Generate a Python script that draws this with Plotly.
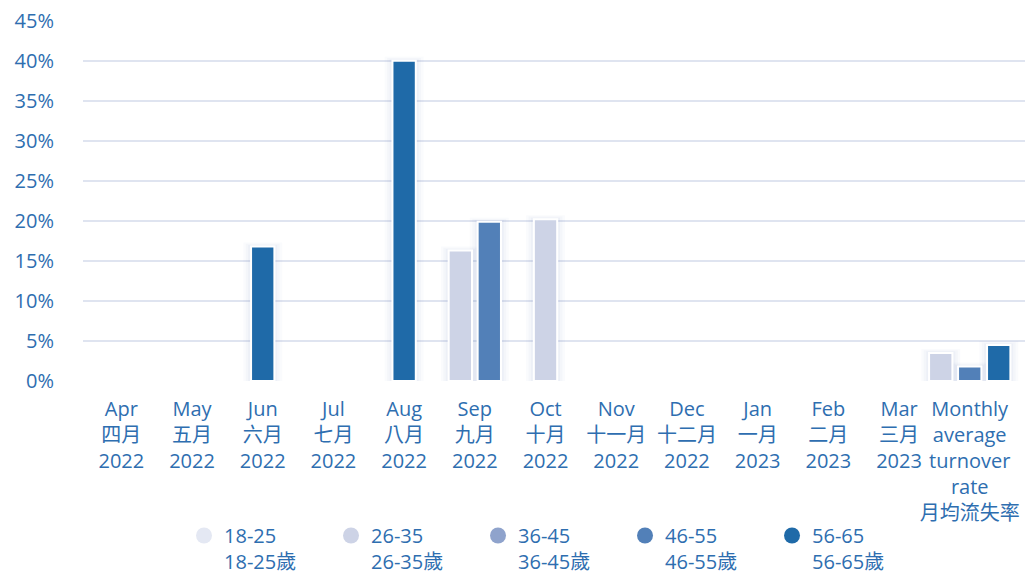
import plotly.graph_objects as go

categories = ["Apr<br>四月<br>2022", "May<br>五月<br>2022", "Jun<br>六月<br>2022", "Jul<br>七月<br>2022",
              "Aug<br>八月<br>2022", "Sep<br>九月<br>2022", "Oct<br>十月<br>2022", "Nov<br>十一月<br>2022",
              "Dec<br>十二月<br>2022", "Jan<br>一月<br>2023", "Feb<br>二月<br>2023", "Mar<br>三月<br>2023",
              "Monthly<br>average<br>turnover<br>rate<br>月均流失率"]

series_names = ["18-25<br>18-25歲", "26-35<br>26-35歲", "36-45<br>36-45歲", "46-55<br>46-55歲", "56-65<br>56-65歲"]

age_18_25 = [0, 0, 0, 0, 0, 0, 0, 0, 0, 0, 0, 0, 0]
age_26_35 = [0, 0, 0, 0, 0, 16.3, 20.2, 0, 0, 0, 0, 0, 3.5]
age_36_45 = [0, 0, 0, 0, 0, 0, 0, 0, 0, 0, 0, 0, 0]
age_46_55 = [0, 0, 0, 0, 0, 19.9, 0, 0, 0, 0, 0, 0, 1.8]
age_56_65 = [0, 0, 16.8, 0, 40.0, 0, 0, 0, 0, 0, 0, 0, 4.5]

y_ticks = [0, 5, 10, 15, 20, 25, 30, 35, 40, 45]
y_tick_labels = ["0%", "5%", "10%", "15%", "20%", "25%", "30%", "35%", "40%", "45%"]

colors = ["#e4e8f3", "#cdd3e6", "#8fa3cc", "#5280b8", "#1f6aa8"]
text_color = "#2e6eb0"
font_family = "Open Sans, Noto Sans CJK TC, sans-serif"

all_series = [age_18_25, age_26_35, age_36_45, age_46_55, age_56_65]

BAR_W = 0.33
SPACING = 0.41

# offsets: non-zero bars of each category are centred as a group
n_cat = len(categories)
offsets = [[0.0] * n_cat for _ in all_series]
for c in range(n_cat):
    idx = [s for s in range(len(all_series)) if all_series[s][c] > 0]
    n = len(idx)
    for k, s in enumerate(idx):
        offsets[s][c] = (k - (n - 1) / 2) * SPACING - BAR_W / 2

fig = go.Figure()

# soft shadow layers
for extra, lift, alpha in [(0.22, 0.5, 0.03), (0.15, 0.35, 0.04), (0.08, 0.2, 0.05)]:
    for s, vals in enumerate(all_series):
        fig.add_trace(go.Bar(
            x=categories,
            y=[v + lift if v > 0 else None for v in vals],
            offset=[o - extra / 2 for o in offsets[s]],
            width=BAR_W + extra,
            marker=dict(color=f"rgba(110,130,190,{alpha})", line=dict(width=0)),
            showlegend=False, hoverinfo="skip",
        ))

for s, vals in enumerate(all_series):
    fig.add_trace(go.Bar(
        x=categories,
        y=[v if v > 0 else None for v in vals],
        offset=offsets[s],
        width=BAR_W,
        marker=dict(color=colors[s], line=dict(color="white", width=2)),
        showlegend=False, name=series_names[s],
    ))

# legend entries (circle markers)
for s, name in enumerate(series_names):
    fig.add_trace(go.Scatter(
        x=[None], y=[None], mode="markers", name=name,
        marker=dict(symbol="circle", size=22, color=colors[s]),
    ))

fig.update_layout(
    width=1025, height=566,
    margin=dict(l=75, r=6, t=12, b=193, autoexpand=False),
    paper_bgcolor="white", plot_bgcolor="white",
    barmode="overlay",
    font=dict(family=font_family, size=20, color=text_color),
    showlegend=True,
    legend=dict(orientation="h", x=0.107, xanchor="left", y=-0.374, yanchor="top",
                valign="top", entrywidth=102, itemsizing="trace",
                font=dict(family=font_family, size=20, color=text_color),
                tracegroupgap=0, itemclick=False),
    xaxis=dict(type="category", range=[-0.542, 12.81], showgrid=False, zeroline=False,
               showline=False, ticks="", ticklabelstandoff=14, tickangle=0, automargin=False,
               tickfont=dict(family=font_family, size=20, color=text_color)),
    yaxis=dict(range=[0, 45.1], tickvals=y_ticks, ticktext=y_tick_labels,
               showgrid=True, gridcolor="#dfe4f0", gridwidth=1.5, zeroline=False,
               showline=False, ticks="", ticklabelstandoff=28, automargin=False,
               ticklabeloverflow="allow",
               tickfont=dict(family=font_family, size=20, color=text_color)),
)

fig.write_html("out.html")
